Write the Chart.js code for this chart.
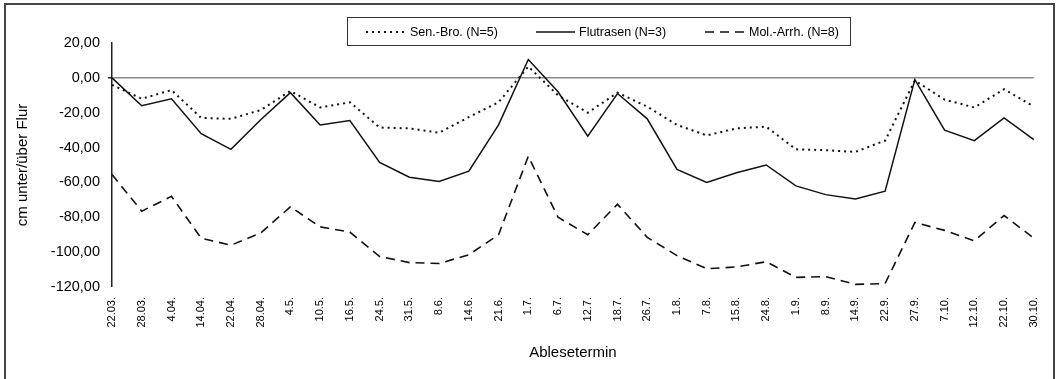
<!DOCTYPE html>
<html>
<head>
<meta charset="utf-8">
<script src="https://cdn.jsdelivr.net/npm/chart.js@4.4.0/dist/chart.umd.min.js"></script>
<style>
  body { margin: 0; background: #fff; }
  #wrap { position: relative; width: 1057px; height: 379px; overflow: hidden; }
  #frame { position: absolute; left: 4px; top: 3px; width: 1047px; height: 400px; border: 2px solid #444; }
  #legend { position: absolute; left: 347px; top: 17px; width: 502px; height: 27px; border: 1px solid #333;
            font: 12.5px "Liberation Sans", Arial, sans-serif; color: #000; }
  #legend .item { position: absolute; top: 0; height: 27px; display: flex; align-items: center; white-space: nowrap; }
  #legend svg { margin-right: 4px; }
</style>
</head>
<body>
<div id="wrap">
  <canvas id="chart" width="1057" height="379"></canvas>
  <div id="frame"></div>
  <div id="legend"></div>
</div>
<script>
const labels = ['22.03.','28.03.','4.04.','14.04.','22.04.','28.04.','4.5.','10.5.','16.5.','24.5.','31.5.',
  '8.6.','14.6.','21.6.','1.7.','6.7.','12.7.','18.7.','26.7.','1.8.','7.8.','15.8.','24.8.',
  '1.9.','8.9.','14.9.','22.9.','27.9.','7.10.','12.10.','22.10.','30.10.'];

const senBro = [-4, -12, -7, -23, -23.5, -18.5, -7.5, -17, -14, -28.5, -29, -31.5, -22.5, -14, 6.5, -10,
  -20, -8.5, -16.5, -27, -33, -29, -28, -41, -41.5, -42.5, -36, -1.5, -12.5, -17, -6.5, -16.5];
const flutrasen = [0, -16, -12, -32, -41, -24, -8.5, -27, -24.5, -48.5, -57, -59.5, -53.5, -27, 10.5, -8,
  -33.5, -9, -23.5, -52.5, -60, -54.5, -50, -62, -67, -69.5, -65, -1, -30, -36, -23, -35.5];
const molArrh = [-55.5, -76.5, -68, -92, -96, -89, -74, -85.5, -88.5, -102.5, -106, -106.5, -101.5, -90, -45, -80,
  -90, -72.5, -91.5, -102, -109.5, -108.5, -105.5, -114.5, -114, -118.5, -118, -83, -87.5, -93.5, -79, -92];

const seriesNames = ['Sen.-Bro. (N=5)', 'Flutrasen (N=3)', 'Mol.-Arrh. (N=8)'];
const yTicks = [20, 0, -20, -40, -60, -80, -100, -120];

const font = '"Liberation Sans", Arial, sans-serif';

const datasets = [
  {label: seriesNames[0], data: senBro, borderColor: '#111', borderWidth: 2, borderDash: [2, 4]},
  {label: seriesNames[1], data: flutrasen, borderColor: '#111', borderWidth: 1.5, borderDash: []},
  {label: seriesNames[2], data: molArrh, borderColor: '#111', borderWidth: 1.6, borderDash: [9, 6]}
].map(d => Object.assign(d, {pointRadius: 0, tension: 0, fill: false}));

new Chart(document.getElementById('chart'), {
  type: 'line',
  data: {labels: labels, datasets: datasets},
  options: {
    responsive: false,
    animation: false,
    layout: {padding: {left: 8, right: 15, top: 43, bottom: 15}},
    plugins: {legend: {display: false}, tooltip: {enabled: false}},
    scales: {
      x: {
        offset: false,
        grid: {display: false, drawTicks: false},
        border: {display: false},
        ticks: {minRotation: 90, maxRotation: 90, autoSkip: false, padding: 10, color: '#000',
                font: {family: font, size: 11}},
        title: {display: true, text: 'Ablesetermin', color: '#000', font: {family: font, size: 15},
                padding: {top: 0, bottom: 2}},
        afterFit: s => { s.height = 77; }
      },
      y: {
        min: yTicks[yTicks.length - 1],
        max: yTicks[0],
        afterBuildTicks: s => { s.ticks = yTicks.map(v => ({value: v})); },
        grid: {
          color: c => c.tick && c.tick.value === 0 ? '#8a8a8a' : 'rgba(0,0,0,0)',
          lineWidth: c => c.tick && c.tick.value === 0 ? 1.5 : 0,
          drawTicks: true, tickLength: 4, tickColor: '#222'
        },
        border: {display: true, color: '#222', width: 1.5},
        ticks: {padding: 8, color: '#000', font: {family: font, size: 14.5},
                callback: v => v.toFixed(2).replace('.', ',')},
        title: {display: true, text: 'cm unter/über Flur', color: '#000', font: {family: font, size: 15},
                padding: {top: 6, bottom: 0}},
        afterFit: s => { s.width = 104; }
      }
    }
  }
});

// HTML legend with line samples
const legendPos = [{sample: 18, width: 40}, {sample: 188, width: 39}, {sample: 357, width: 40}];
const legendEl = document.getElementById('legend');
datasets.forEach((d, i) => {
  const item = document.createElement('div');
  item.className = 'item';
  item.style.left = legendPos[i].sample + 'px';
  const w = legendPos[i].width;
  item.innerHTML = '<svg width="' + w + '" height="6"><line x1="0" y1="3" x2="' + w + '" y2="3" stroke="#111" stroke-width="' +
    d.borderWidth + '" stroke-dasharray="' + d.borderDash.join(' ') + '"/></svg><span>' + d.label + '</span>';
  legendEl.appendChild(item);
});
</script>
</body>
</html>
